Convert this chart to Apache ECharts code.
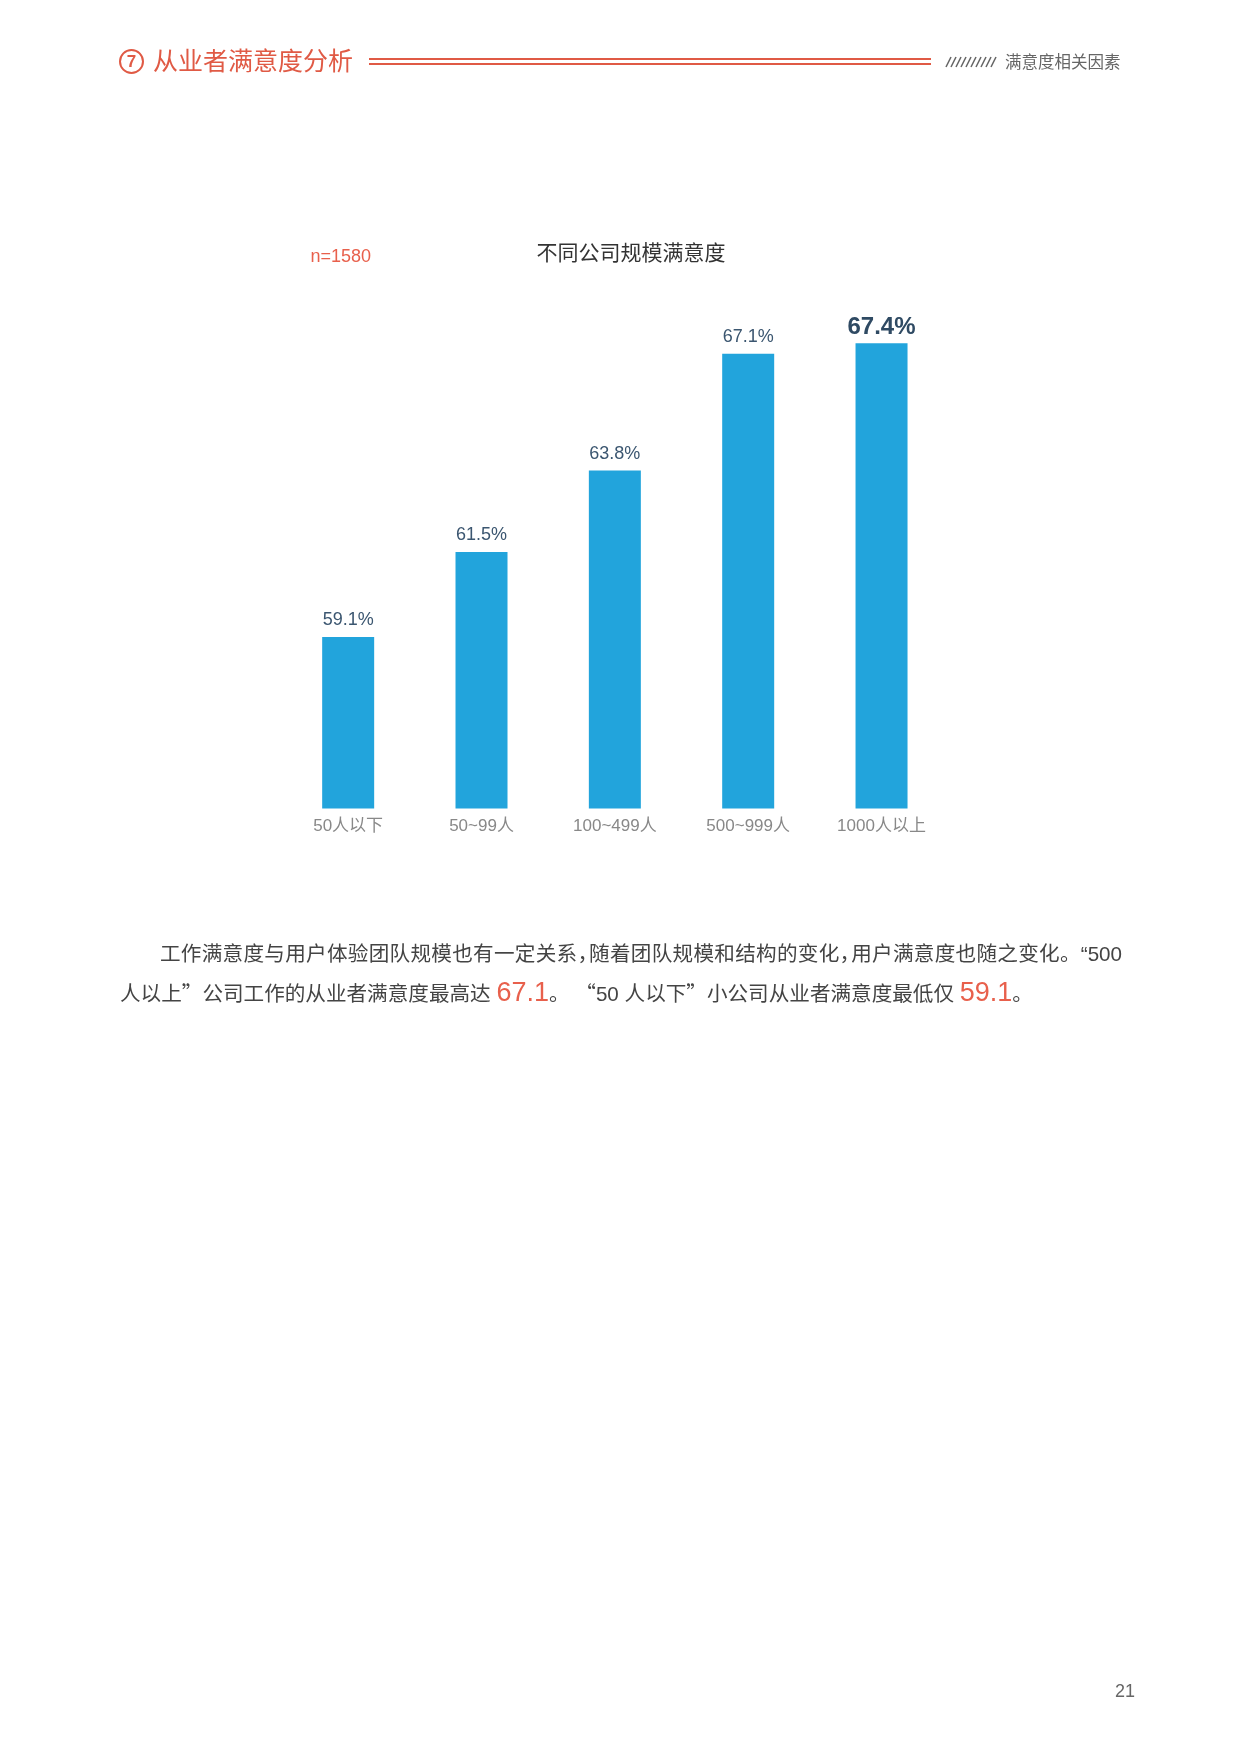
<!DOCTYPE html>
<html>
<head>
<meta charset="utf-8">
<script src="https://cdn.jsdelivr.net/npm/echarts@6/dist/echarts.min.js"></script>
<style>
  html, body { margin:0; padding:0; background:#fff; }
  body { width:1240px; height:1754px; position:relative; overflow:hidden;
         font-family:"Liberation Sans","Noto Sans CJK SC",sans-serif; }
  #chart { position:absolute; left:0; top:0; width:1240px; height:1754px; }
  .abs { position:absolute; white-space:nowrap; }
  #circ { left:119px; top:49px; width:21px; height:21px; border:2px solid #e05a45; border-radius:50%;
          color:#e05a45; font-size:17px; line-height:21px; text-align:center; font-weight:bold; }
  #htitle { left:153px; top:44px; font-size:25px; line-height:34px; color:#e05a45; }
  #l1 { left:369px; top:58px; width:562px; height:2px; background:#e05a45; }
  #l2 { left:369px; top:63px; width:562px; height:2px; background:#e05a45; }
  #hatch { left:944px; top:56px; }
  #hsub { left:1005px; top:50px; font-size:16.5px; line-height:24px; color:#666; }
  #para { left:120px; top:934px; width:1002px; font-size:20.6px; line-height:39px; color:#444;
          text-align:justify; text-indent:40px; white-space:normal; }
  #para .hl { color:#e8604c; font-size:27px; }
  #para .q { font-family:"Noto Sans CJK SC",sans-serif; }
  #para .hw { display:inline-block; width:0.55em; overflow:hidden; text-indent:0; vertical-align:bottom; }
  #pnum { left:1115px; top:1680px; font-size:18px; line-height:22px; color:#666; }
</style>
</head>
<body>
<div id="chart"></div>
<div class="abs" id="circ">7</div>
<div class="abs" id="htitle">从业者满意度分析</div>
<div class="abs" id="l1"></div>
<div class="abs" id="l2"></div>
<svg class="abs" id="hatch" width="54" height="12">
  <g stroke="#666" stroke-width="1.6">
    <line x1="2" y1="11" x2="7" y2="1"/><line x1="7" y1="11" x2="12" y2="1"/>
    <line x1="12" y1="11" x2="17" y2="1"/><line x1="17" y1="11" x2="22" y2="1"/>
    <line x1="22" y1="11" x2="27" y2="1"/><line x1="27" y1="11" x2="32" y2="1"/>
    <line x1="32" y1="11" x2="37" y2="1"/><line x1="37" y1="11" x2="42" y2="1"/>
    <line x1="42" y1="11" x2="47" y2="1"/><line x1="47" y1="11" x2="52" y2="1"/>
  </g>
</svg>
<div class="abs" id="hsub">满意度相关因素</div>
<div class="abs" id="para">工作满意度与用户体验团队规模也有一定关系<span class="hw">，</span>随着团队规模和结构的变化<span class="hw">，</span>用户满意度也随之变化。“500 人以上<span class="q">”</span>公司工作的从业者满意度最高达 <span class="hl">67.1</span>。 <span class="q">“</span>50 人以下<span class="q">”</span>小公司从业者满意度最低仅 <span class="hl">59.1</span>。</div>
<div class="abs" id="pnum">21</div>
<script>
var categories = ['50人以下', '50~99人', '100~499人', '500~999人', '1000人以上'];
var satisfaction = [59.1, 61.5, 63.8, 67.1, 67.4];
var highlightIndex = 4;
var chartTitle = '不同公司规模满意度';
var sampleNote = 'n=1580';

var chart = echarts.init(document.getElementById('chart'), null, { renderer: 'canvas' });
var fontFam = '"Liberation Sans","Noto Sans CJK SC",sans-serif';
var barData = satisfaction.map(function (v, i) {
  var item = { value: v };
  if (i === highlightIndex) {
    item.label = { fontSize: 24, fontWeight: 'bold', color: '#2f4a63', distance: 4 };
  }
  return item;
});
chart.setOption({
  animation: false,
  backgroundColor: 'transparent',
  title: [
    { text: chartTitle, left: 626, top: 239, textAlign: 'center',
      textStyle: { fontSize: 21, fontWeight: 'normal', color: '#333', fontFamily: fontFam } },
    { text: sampleNote, left: 305.5, top: 243,
      textStyle: { fontSize: 18, fontWeight: 'normal', color: '#e8604c', fontFamily: fontFam } }
  ],
  grid: { left: 281.5, right: 291.8, top: 322, bottom: 1754 - 808.5, containLabel: false },
  xAxis: {
    type: 'category', data: categories,
    axisLine: { show: false }, axisTick: { show: false }, splitLine: { show: false },
    axisLabel: { color: '#888', fontSize: 17, margin: 9, fontFamily: fontFam, interval: 0 }
  },
  yAxis: { type: 'value', min: 54.25, max: 68, show: false, splitLine: { show: false } },
  series: [{
    type: 'bar', data: barData, barWidth: '39%',
    itemStyle: { color: '#22a4dc' },
    label: { show: true, position: 'top', distance: 8, color: '#3b5670', fontSize: 18,
             fontFamily: fontFam, formatter: function (p) { return p.value.toFixed(1) + '%'; } }
  }]
});
</script>
</body>
</html>
